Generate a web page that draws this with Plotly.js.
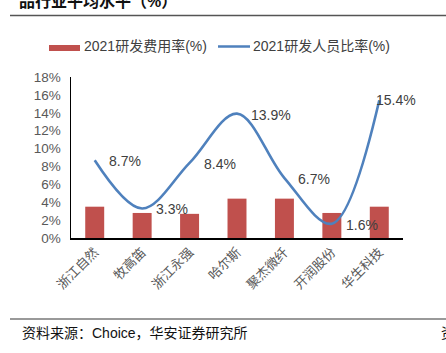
<!DOCTYPE html>
<html><head><meta charset="utf-8">
<script src="https://cdn.plot.ly/plotly-3.0.1.min.js"></script>
<style>body{margin:0;padding:0;background:#fff}#c{width:446px;height:353px}</style>
</head><body><div id="c"></div>
<script>
const categories = ['浙江自然','牧高笛','浙江永强','哈尔斯','聚杰微纤','开润股份','华生科技'];
const rdExpenseRate = [3.5, 2.8, 2.7, 4.4, 4.4, 2.8, 3.5];
const rdStaffRate = [8.7, 3.3, 8.4, 13.9, 6.7, 1.6, 15.4];
const yTickVals = [0,2,4,6,8,10,12,14,16,18];
const yTickText = yTickVals.map(v => v + '%');
const seriesNames = ['2021研发费用率(%)', '2021研发人员比率(%)'];

const W = 446, H = 353;
const px = x => x / W, py = y => 1 - y / H;
const FONT = 'Arial, "Liberation Sans", "Noto Sans CJK SC", sans-serif';
const CJK = '"Liberation Sans", "Noto Sans CJK SC", sans-serif';

const traces = [
  {type:'bar', x:categories, y:rdExpenseRate, name:seriesNames[0],
   marker:{color:'#C0504D'}, width:0.4, hoverinfo:'skip'},
  {type:'scatter', mode:'lines', x:categories, y:rdStaffRate, name:seriesNames[1],
   line:{color:'#4F81BD', width:2.6, shape:'spline', smoothing:1}, hoverinfo:'skip'}
];

const annotations = rdStaffRate.map((v,i) => ({
  x: categories[i], y: v, xref:'x', yref:'y', text: v.toFixed(1) + '%',
  showarrow:false, xanchor:'left', yanchor:'middle',
  xshift: i === rdStaffRate.length - 1 ? -5 : 12, yshift: i === rdStaffRate.length - 1 ? 0 : -1,
  font:{family:FONT, size:14, color:'#404040'}
}));
annotations.push(
  {x:px(17), y:py(1), xref:'paper', yref:'paper', text:'<b>品行业平均水平（%）</b>', showarrow:false,
   xanchor:'left', yanchor:'middle', font:{family:CJK, size:16, color:'#111'}},
  {x:px(82), y:py(46.5), xref:'paper', yref:'paper', text:seriesNames[0], showarrow:false,
   xanchor:'left', yanchor:'middle', font:{family:CJK, size:14, color:'#404040'}},
  {x:px(251), y:py(46.5), xref:'paper', yref:'paper', text:seriesNames[1], showarrow:false,
   xanchor:'left', yanchor:'middle', font:{family:CJK, size:14, color:'#404040'}},
  {x:px(20), y:py(333), xref:'paper', yref:'paper', text:'资料来源：Choice，华安证券研究所', showarrow:false,
   xanchor:'left', yanchor:'middle', font:{family:CJK, size:14, color:'#111'}},
  {x:px(439), y:py(333), xref:'paper', yref:'paper', text:'资', showarrow:false,
   xanchor:'left', yanchor:'middle', font:{family:CJK, size:14, color:'#111'}}
);

const shapes = [
  {type:'line', xref:'paper', yref:'paper', x0:px(10), x1:px(446), y0:py(15.5), y1:py(15.5), line:{color:'#555', width:1.5}},
  {type:'line', xref:'paper', yref:'paper', x0:px(10), x1:px(446), y0:py(319), y1:py(319), line:{color:'#999', width:2}},
  {type:'rect', xref:'paper', yref:'paper', x0:px(49), x1:px(80), y0:py(51), y1:py(45), fillcolor:'#C0504D', line:{width:0}},
  {type:'line', xref:'paper', yref:'paper', x0:px(218), x1:px(250), y0:py(46.5), y1:py(46.5), line:{color:'#4F81BD', width:2.5}}
];

const layout = {
  width:W, height:H, margin:{l:0,r:0,t:0,b:0}, showlegend:false,
  paper_bgcolor:'#fff', plot_bgcolor:'#fff', bargap:0.6,
  xaxis:{domain:[px(71), px(403)], type:'category', range:[-0.5, categories.length - 0.5], autorange:false,
         showline:true, linecolor:'#000', linewidth:1.5,
         ticks:'', tickangle:-45, showgrid:false, zeroline:false, automargin:false,
         tickfont:{family:CJK, size:13, color:'#595959'}},
  yaxis:{domain:[py(238), py(77)], range:[0,18], autorange:false, tickvals:yTickVals, ticktext:yTickText,
         showline:true, linecolor:'#000', linewidth:1.5, ticks:'', showgrid:false, zeroline:false,
         automargin:false, ticklabelstandoff:6,
         tickfont:{family:FONT, size:13.5, color:'#595959'}},
  annotations, shapes
};
Plotly.newPlot('c', traces, layout, {staticPlot:true, displayModeBar:false});
</script></body></html>
